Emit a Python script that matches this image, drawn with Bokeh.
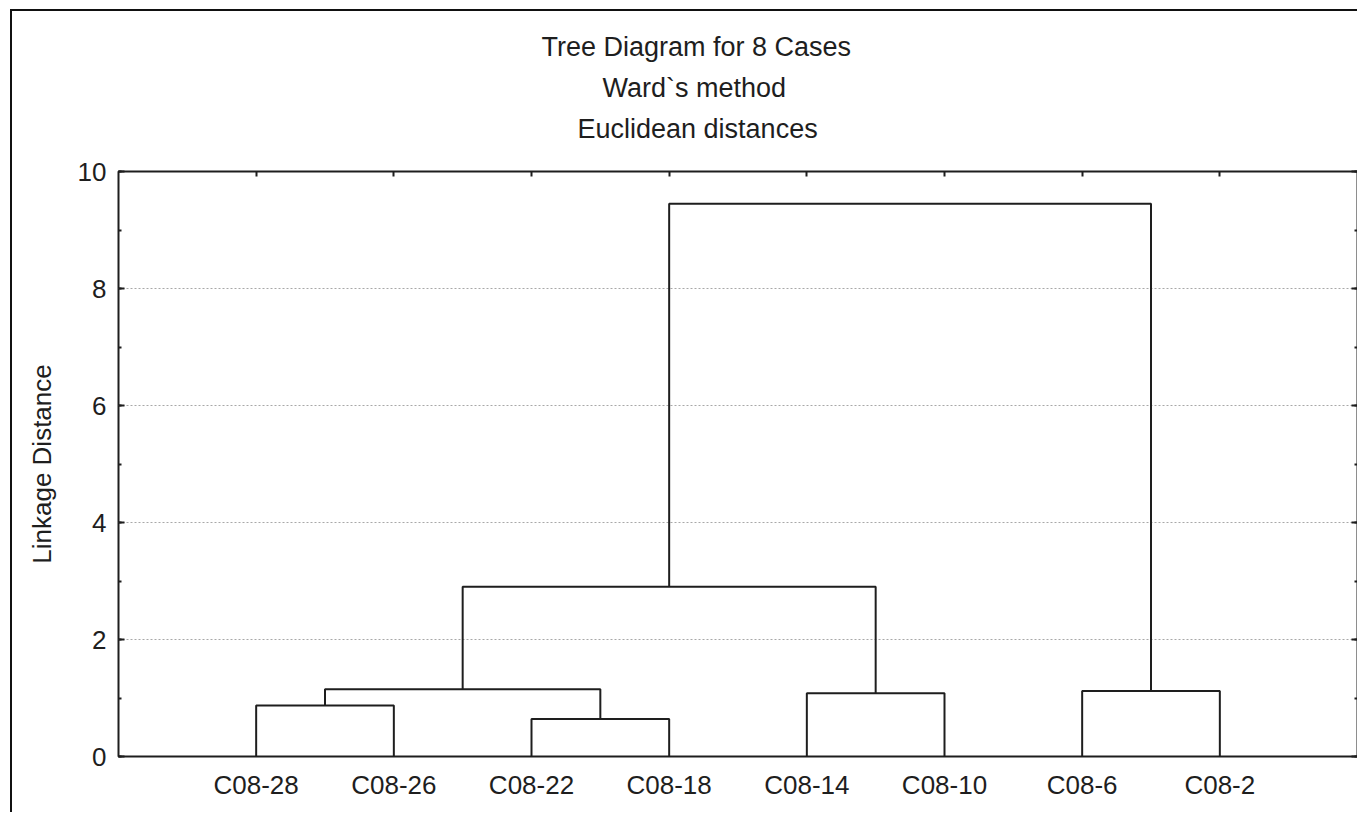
from bokeh.plotting import figure
from bokeh.models import (FixedTicker, SingleIntervalTicker, LinearAxis, Title, Range1d)
from bokeh.embed import file_html
from bokeh.resources import INLINE

# Leaves in dendrogram order (left to right)
leaves = ["C08-28", "C08-26", "C08-22", "C08-18", "C08-14", "C08-10", "C08-6", "C08-2"]

# Ward linkage: row k joins clusters merge_a[k] and merge_b[k] at merge_h[k];
# ids < 8 are leaves, the cluster created by row k gets id 8 + k
merge_a = [2, 0, 4, 6, 9, 12, 13]
merge_b = [3, 1, 5, 7, 8, 10, 11]
merge_h = [0.64, 0.87, 1.08, 1.12, 1.15, 2.90, 9.45]

y_ticks = [0, 2, 4, 6, 8, 10]
title_lines = ["Tree Diagram for 8 Cases", "Ward`s method", "Euclidean distances"]
y_label = "Linkage Distance"

FONT = "Liberation Sans"
INK = "#1e1e1e"
FS = "26px"

# build the U-shaped links of the tree
pos = {i: i + 1 for i in range(len(leaves))}
hgt = {i: 0.0 for i in range(len(leaves))}
link_xs, link_ys = [], []
for k, (a, b, h) in enumerate(zip(merge_a, merge_b, merge_h)):
    link_xs.append([pos[a], pos[a], pos[b], pos[b]])
    link_ys.append([hgt[a], h, h, hgt[b]])
    pos[len(leaves) + k] = (pos[a] + pos[b]) / 2
    hgt[len(leaves) + k] = h

leaf_x = [i + 1 for i in range(len(leaves))]

# page frame (top and left rules) drawn as a CSS border around the canvas
MARGIN_L, MARGIN_T, RULE = 10, 9, 2
W, H = 1359 - MARGIN_L - RULE, 814 - MARGIN_T - RULE

p = figure(width=W, height=H, output_backend="svg", toolbar_location=None,
           x_range=Range1d(0, len(leaves) + 1), y_range=Range1d(y_ticks[0], y_ticks[-1]),
           min_border_left=106, min_border_right=2,
           min_border_top=160, min_border_bottom=58)
p.styles = {"margin-left": f"{MARGIN_L}px", "margin-top": f"{MARGIN_T}px",
            "border-left": f"{RULE}px solid #111111",
            "border-top": f"{RULE}px solid #111111"}
p.background_fill_color = "white"
p.border_fill_color = "white"
p.outline_line_color = INK
p.outline_line_width = 2
p.title = None

# grid: dotted horizontal lines at the inner major ticks
p.xgrid.visible = False
p.ygrid.ticker = FixedTicker(ticks=y_ticks[1:-1])
p.ygrid.grid_line_color = "#a8a8a8"
p.ygrid.grid_line_dash = "2 2"
p.ygrid.grid_line_width = 1

# left axis
yax = p.yaxis[0]
yax.ticker = SingleIntervalTicker(interval=2, num_minor_ticks=2)
yax.axis_line_color = None
yax.major_tick_in = 6
yax.major_tick_out = 0
yax.minor_tick_in = 3
yax.minor_tick_out = 0
yax.major_tick_line_color = INK
yax.minor_tick_line_color = INK
yax.major_tick_line_width = 2
yax.minor_tick_line_width = 2
yax.major_label_standoff = 12
yax.major_label_text_font = FONT
yax.major_label_text_font_size = FS
yax.major_label_text_color = INK
yax.axis_label = y_label
yax.axis_label_text_font = FONT
yax.axis_label_text_font_size = FS
yax.axis_label_text_font_style = "normal"
yax.axis_label_text_color = INK
yax.axis_label_standoff = 18

# bottom axis with leaf names
xax = p.xaxis[0]
xax.ticker = FixedTicker(ticks=leaf_x)
xax.major_label_overrides = {x: name for x, name in zip(leaf_x, leaves)}
xax.axis_line_color = None
xax.major_tick_in = 0
xax.major_tick_out = 0
xax.minor_tick_line_color = None
xax.major_label_standoff = 13
xax.major_label_text_font = FONT
xax.major_label_text_font_size = FS
xax.major_label_text_color = INK

# tick marks only (no labels) on the right and top edges
rax = LinearAxis(ticker=SingleIntervalTicker(interval=2, num_minor_ticks=2),
                 axis_line_color=None, major_tick_in=6, major_tick_out=0,
                 minor_tick_in=3, minor_tick_out=0, major_tick_line_width=2,
                 minor_tick_line_width=2, major_tick_line_color=INK,
                 minor_tick_line_color=INK, major_label_text_font_size="1px",
                 major_label_text_color=None, major_label_standoff=0)
p.add_layout(rax, "right")
tax = LinearAxis(ticker=FixedTicker(ticks=leaf_x), axis_line_color=None,
                 major_tick_in=5, major_tick_out=0, minor_tick_line_color=None,
                 major_tick_line_width=2, major_tick_line_color=INK,
                 major_label_text_font_size="1px", major_label_text_color=None,
                 major_label_standoff=0)
p.add_layout(tax, "above")

# empty band between the plot and the heading
gap = LinearAxis(ticker=FixedTicker(ticks=leaf_x), axis_line_color=None,
                 major_tick_in=0, major_tick_out=23, major_tick_line_color=None,
                 minor_tick_line_color=None, major_label_text_font_size="1px",
                 major_label_text_color=None, major_label_standoff=0)
p.add_layout(gap, "above")

# the tree
p.multi_line(link_xs, link_ys, line_color=INK, line_width=2)

# three-line heading, stacked outward from the plot; each line is placed
# from the frame's left edge so the block sits a little left of centre
title_offsets = [423, 484, 459]
for text, off in zip(reversed(title_lines), reversed(title_offsets)):
    p.add_layout(Title(text=text, align="left", offset=off, standoff=9,
                       text_font=FONT, text_font_size="27px", text_font_style="normal",
                       text_color=INK), "above")

open("out.html", "w").write(file_html(p, INLINE))
